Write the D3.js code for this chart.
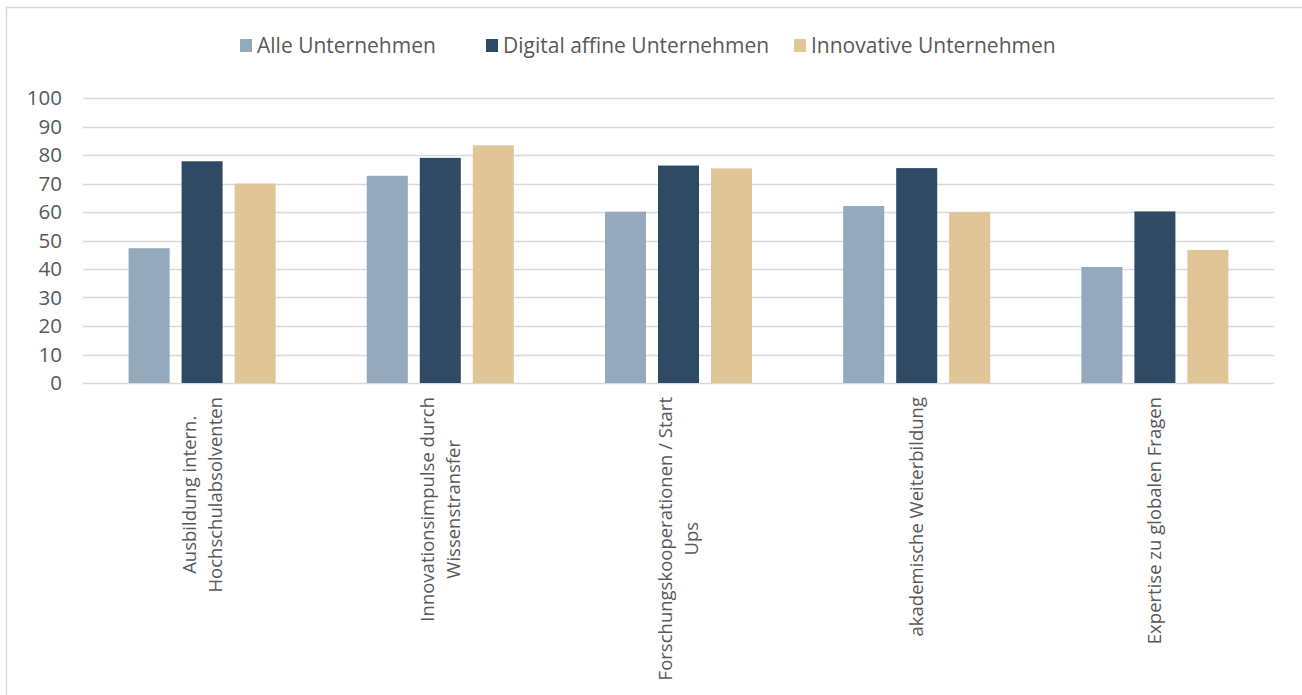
<!DOCTYPE html>
<html>
<head>
<meta charset="utf-8">
<script src="https://cdn.jsdelivr.net/npm/d3@7"></script>
<style>
  html, body { margin: 0; padding: 0; background: #fff; }
  svg { display: block; }
  text { font-family: "Open Sans", "Noto Sans", sans-serif; fill: #595959; }
</style>
</head>
<body>
<svg id="chart" width="1302" height="695"></svg>
<script>
// Kategorien (mehrzeilige Achsenbeschriftung)
const categories = [
  ["Ausbildung intern.", "Hochschulabsolventen"],
  ["Innovationsimpulse durch", "Wissenstransfer"],
  ["Forschungskooperationen / Start", "Ups"],
  ["akademische Weiterbildung"],
  ["Expertise zu globalen Fragen"]
];
const seriesNames = ["Alle Unternehmen", "Digital affine Unternehmen", "Innovative Unternehmen"];
const seriesColors = ["#94a9bc", "#2e4a64", "#e0c596"];
const alleValues     = [47.3, 72.7, 60.1, 62.1, 40.7];
const digitalValues  = [77.8, 79.0, 76.3, 75.4, 60.2];
const innovValues    = [70.0, 83.4, 75.3, 59.9, 46.7];
const yTicks = [0, 10, 20, 30, 40, 50, 60, 70, 80, 90, 100];

const seriesValues = [alleValues, digitalValues, innovValues];

const svg = d3.select("#chart");

// Rahmen des Diagrammbereichs
svg.append("rect")
  .attr("x", 6.5).attr("y", 7.5)
  .attr("width", 1320).attr("height", 720)
  .attr("fill", "none").attr("stroke", "#d9d9d9").attr("stroke-width", 1.5);

const plot = { left: 83, right: 1274, top: 98, bottom: 383 };

const x0 = d3.scaleBand()
  .domain(d3.range(categories.length))
  .range([plot.left, plot.right])
  .paddingInner(0).paddingOuter(0);

const x1 = d3.scaleBand()
  .domain(d3.range(seriesNames.length))
  .range([0, x0.bandwidth()])
  .paddingInner(0.226)
  .paddingOuter(0.86);

const y = d3.scaleLinear().domain([0, 100]).range([plot.bottom, plot.top]);

// Gitterlinien
svg.append("g")
  .selectAll("line")
  .data(yTicks)
  .join("line")
  .attr("x1", plot.left).attr("x2", plot.right)
  .attr("y1", d => Math.round(y(d)) + 0.5)
  .attr("y2", d => Math.round(y(d)) + 0.5)
  .attr("stroke", "#d9d9d9").attr("stroke-width", 1.5);

// y-Achse
const yAxis = svg.append("g")
  .attr("transform", `translate(${plot.left - 21},0)`)
  .call(d3.axisLeft(y).tickValues(yTicks).tickSize(0).tickPadding(0));
yAxis.select(".domain").remove();
yAxis.selectAll("text")
  .style("font-size", "20.5px")
  .style("font-family", "'Open Sans', sans-serif")
  .attr("fill", "#595959");

// Balken
const groups = svg.append("g")
  .selectAll("g")
  .data(categories.map((c, i) => i))
  .join("g")
  .attr("transform", i => `translate(${x0(i)},0)`);

groups.selectAll("rect")
  .data(i => seriesValues.map((vals, s) => ({ s, v: vals[i] })))
  .join("rect")
  .attr("x", d => x1(d.s))
  .attr("width", x1.bandwidth())
  .attr("y", d => y(d.v))
  .attr("height", d => y(0) - y(d.v))
  .attr("fill", d => seriesColors[d.s]);

// Achsenbeschriftungen, um -90° gedreht, Zeilen zentriert
const labelTop = 397;
const lineGap = 26;
const labelG = svg.append("g");
categories.forEach((lines, i) => {
  const cx = x0(i) + x0.bandwidth() / 2;
  const tmp = labelG.append("g");
  const texts = lines.map(l => tmp.append("text").text(l)
    .style("font-size", "18.5px"));
  const maxLen = d3.max(texts, t => t.node().getComputedTextLength());
  tmp.remove();
  const centerY = labelTop + maxLen / 2;
  const n = lines.length;
  lines.forEach((l, k) => {
    const off = (k - (n - 1) / 2) * lineGap;
    labelG.append("text")
      .attr("transform", `translate(${cx + off},${centerY}) rotate(-90)`)
      .attr("text-anchor", "middle")
      .attr("dy", "0.35em")
      .style("font-size", "18.5px")
      .text(l);
  });
});

// Legende
const legendX = [240, 486, 794];
const legend = svg.append("g");
seriesNames.forEach((name, s) => {
  legend.append("rect")
    .attr("x", legendX[s]).attr("y", 39)
    .attr("width", 12).attr("height", 13)
    .attr("fill", seriesColors[s]);
  legend.append("text")
    .attr("x", legendX[s] + 17).attr("y", 46)
    .attr("dy", "0.35em")
    .style("font-size", "21px")
    .text(name);
});
</script>
</body>
</html>
